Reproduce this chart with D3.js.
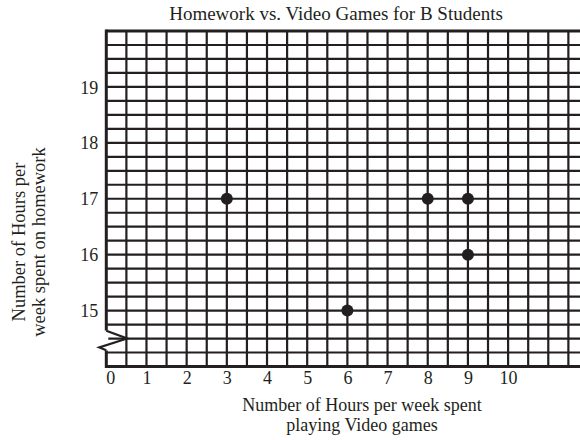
<!DOCTYPE html>
<html>
<head>
<meta charset="utf-8">
<script src="https://cdn.jsdelivr.net/npm/d3@7"></script>
<style>
  html, body { margin: 0; padding: 0; background: #fff; }
  svg { display: block; }
  text { font-family: "Liberation Serif", "Times New Roman", serif; fill: #231f20; }
</style>
</head>
<body>
<script>
// Hours per week playing video games vs. hours per week on homework
const videoHours = [3, 6, 8, 9, 9];
const homeworkHours = [17, 15, 17, 17, 16];
const xTickValues = [0, 1, 2, 3, 4, 5, 6, 7, 8, 9, 10];
const yTickValues = [15, 16, 17, 18, 19];
const titleText = "Homework vs. Video Games for B Students";
const xTitleLines = ["Number of Hours per week spent", "playing Video games"];
const yTitleLines = ["Number of Hours per", "week spent on homework"];

const W = 580, H = 440;
const ink = "#231f20";
const serif = '"Liberation Serif", "Times New Roman", serif';
const plotLeft = 106.3, plotTop = 31, plotBottom = 366.5;
const colW = 20.09;                      // one grid column = half an hour

const x = d3.scaleLinear().domain([0, 1]).range([plotLeft, plotLeft + 2 * colW]);
const y = d3.scaleLinear().domain([14, 20]).range([plotBottom, plotTop]);

const svg = d3.select("body").append("svg").attr("width", W).attr("height", H);

// graph paper: vertical lines every half unit, horizontal every quarter unit
const xMax = x.invert(W + 10);
const vLines = d3.range(0, xMax, 0.5);
const hLines = d3.range(14, 20.001, 0.25);
const grid = svg.append("g").attr("stroke", ink).attr("stroke-width", 2.2);
grid.selectAll("line.v").data(vLines.slice(1)).join("line")
  .attr("x1", d => x(d)).attr("x2", d => x(d))
  .attr("y1", y(20)).attr("y2", y(14));
grid.selectAll("line.h").data(hLines).join("line")
  .attr("x1", x(0)).attr("x2", W)
  .attr("y1", d => y(d)).attr("y2", d => y(d));

// heavier frame on top, bottom and left (left edge broken for the axis break)
const frame = svg.append("g").attr("stroke", ink).attr("stroke-width", 3).attr("fill", "none");
frame.append("line").attr("x1", x(0)).attr("x2", W).attr("y1", y(20)).attr("y2", y(20));
frame.append("line").attr("x1", x(0)).attr("x2", W).attr("y1", y(14)).attr("y2", y(14));
frame.append("line").attr("x1", x(0)).attr("x2", x(0)).attr("y1", y(20) - 1.5).attr("y2", y(14.64));
frame.append("line").attr("x1", x(0)).attr("x2", x(0)).attr("y1", y(14.29)).attr("y2", y(14) + 1.5);

// axis-break zigzag
svg.append("rect").attr("x", x(0) - 2).attr("y", y(14.64)).attr("width", 4)
  .attr("height", y(14.29) - y(14.64)).attr("fill", "#fff");
svg.append("path")
  .attr("d", d3.line()([
    [x(0), y(14.64)],
    [x(0.52), y(14.5)],
    [x(0) - 7, y(14.34)],
    [x(0), y(14.29)]
  ]))
  .attr("fill", "none").attr("stroke", ink).attr("stroke-width", 2.2)
  .attr("stroke-linejoin", "miter");

// data points
svg.append("g").selectAll("circle").data(videoHours).join("circle")
  .attr("cx", (d) => x(d))
  .attr("cy", (d, i) => y(homeworkHours[i]))
  .attr("r", 6)
  .attr("fill", ink);

// tick labels
const xAxis = d3.axisBottom(x).tickValues(xTickValues).tickFormat(d3.format("d"))
  .tickSize(0).tickPadding(0);
const gx = svg.append("g").attr("transform", `translate(0,${y(14) + 17})`).call(xAxis)
  .attr("font-family", serif).attr("font-size", 18);
gx.select(".domain").remove();
gx.selectAll("text")
  .attr("dy", 0).attr("dx", d => d === 0 ? 4 : 0).attr("fill", ink);

const yAxis = d3.axisLeft(y).tickValues(yTickValues).tickFormat(d3.format("d"))
  .tickSize(0).tickPadding(0);
const gy = svg.append("g").attr("transform", `translate(${x(0) - 8},0)`).call(yAxis)
  .attr("font-family", serif).attr("font-size", 18);
gy.select(".domain").remove();
gy.selectAll("text").attr("dy", "0.34em").attr("fill", ink);

// titles
svg.append("text").attr("x", 336).attr("y", 20).attr("text-anchor", "middle")
  .style("font-size", "19px").text(titleText);

svg.append("g").selectAll("text").data(xTitleLines).join("text")
  .attr("x", 362).attr("y", (d, i) => 411 + i * 20)
  .attr("text-anchor", "middle").style("font-size", "18px").text(d => d);

svg.append("g").selectAll("text").data(yTitleLines).join("text")
  .attr("transform", (d, i) => `translate(${25 + i * 20},242) rotate(-90)`)
  .attr("text-anchor", "middle").style("font-size", "18.5px").text(d => d);
</script>
</body>
</html>
